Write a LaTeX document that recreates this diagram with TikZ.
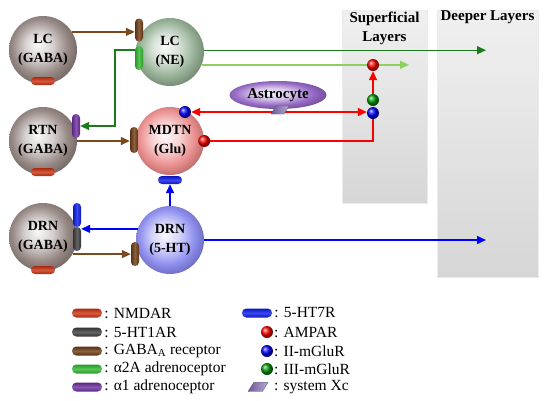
\documentclass[tikz,border=0pt]{standalone}
\usepackage{fontspec}
\setmainfont{Liberation Serif}
\usetikzlibrary{arrows.meta,shapes.geometric}
\makeatletter
\pgfdeclareradialshading[tikz@ball]{softball}{\pgfqpoint{-4bp}{4bp}}{%
 color(0bp)=(tikz@ball!5!white);
 color(10bp)=(tikz@ball!35!white);
 color(20bp)=(tikz@ball!90!white);
 color(28bp)=(tikz@ball!80!black);
 color(50bp)=(tikz@ball!80!black)}
\makeatother
\definecolor{lcgray}{HTML}{8E7F7B}
\definecolor{negreen}{HTML}{8DAA8D}
\definecolor{mdpink}{HTML}{E98585}
\definecolor{drblue}{HTML}{8585EE}
\definecolor{nmda}{HTML}{C8300E}
\definecolor{gabab}{HTML}{6B3A12}
\definecolor{a2green}{HTML}{2DB52D}
\definecolor{a1purple}{HTML}{6A2C9C}
\definecolor{ht7blue}{HTML}{0A1AE6}
\definecolor{ht1gray}{HTML}{3C3C3C}
\definecolor{brownc}{HTML}{7A4A1E}
\definecolor{dkgreen}{HTML}{1B7A1B}
\definecolor{ltgreen}{HTML}{8ED060}
\definecolor{astpurple}{HTML}{8C5CC0}
\definecolor{xcpurple}{HTML}{7E68B0}
\tikzset{
  sphere/.style={circle, minimum size=68pt, inner sep=0pt, ball color=#1, shading=softball,
    align=center, font=\bfseries\fontsize{14}{19}\selectfont},
  hbar/.style={rectangle, rounded corners=3.9pt, minimum width=24pt, minimum height=8pt, inner sep=0pt,
    top color=#1!85!black, bottom color=#1!85!black, middle color=#1!80!white},
  vbar/.style={rectangle, rounded corners=3.9pt, minimum width=8pt, minimum height=24pt, inner sep=0pt,
    left color=#1!85!black, right color=#1!85!black, middle color=#1!80!white},
  lbar/.style={rectangle, rounded corners=4.4pt, minimum width=30pt, minimum height=9pt, inner sep=0pt,
    top color=#1!85!black, bottom color=#1!85!black, middle color=#1!80!white},
  sball/.style={circle, minimum size=12pt, inner sep=0pt, ball color=#1},
  xcpic/.pic={\path[left color=xcpurple!85!black, right color=xcpurple!55!white, draw=xcpurple!70!black, line width=0.3pt]
     (-9,4) -- (4,4) -- (9,-4) -- (-4,-4) -- cycle;},
  panel/.style={rectangle, anchor=north west, inner sep=0pt, draw=black!8, top color=black!6, bottom color=black!16},
  layertext/.style={align=center, font=\bfseries\fontsize{15}{19}\selectfont},
  legtext/.style={anchor=west, inner sep=2pt, font=\fontsize{15.5}{16}\selectfont},
  arr/.style={line width=1.4pt, -{Triangle[length=9pt,width=8pt]}},
  plain/.style={line width=1.4pt},
}
\begin{document}
\begin{tikzpicture}[x=1pt,y=-1pt]
\useasboundingbox (0,0) rectangle (550,400);
% layer panels
\node[panel, minimum width=85pt, minimum height=193pt] (sup) at (342,10) {};
\node[panel, minimum width=101pt, minimum height=267pt] (deep) at (437,10) {};
\node[layertext] (suptxt) at (384.5,28) {Superficial\\Layers};
\node[layertext] (deeptxt) at (487.5,17) {Deeper Layers};
% end points
\coordinate (gcorner) at (115,50);
\coordinate (dgend) at (486,50);
\coordinate (lgend) at (409,65);
\coordinate (blend) at (486,240);
% spheres
\node[sphere=lcgray] (lcg) at (43,50) {LC\\(GABA)};
\node[sphere=negreen] (lcne) at (170,52) {LC\\(NE)};
\node[sphere=lcgray] (rtn) at (43,141) {RTN\\(GABA)};
\node[sphere=mdpink] (mdtn) at (170,141) {MDTN\\(Glu)};
\node[sphere=lcgray] (drg) at (43,237) {DRN\\(GABA)};
\node[sphere=drblue] (dr5) at (170,240) {DRN\\(5-HT)};
% receptors on neurons
\node[hbar=nmda] (lcgn) at (43,81) {};
\node[vbar=gabab, minimum height=23pt] (lcneb) at (139,30) {};
\node[vbar=a2green] (lcneg) at (139,58) {};
\node[hbar=nmda] (rtnn) at (43,172) {};
\node[vbar=a1purple] (rtnp) at (76,126) {};
\node[vbar=gabab, minimum height=26pt] (mdb) at (134,140) {};
\node[hbar=ht7blue] (md7) at (170,180) {};
\node[hbar=nmda] (drgn) at (43,270) {};
\node[vbar=ht7blue] (drgb) at (77,215) {};
\node[vbar=ht1gray] (drgk) at (77,239) {};
\node[vbar=gabab] (dr5b) at (135,254) {};
% astrocyte
\node[ellipse, minimum width=97pt, minimum height=28pt, inner sep=0pt, ball color=astpurple, shading=softball,
  font=\bfseries\fontsize{15}{16}\selectfont] (astro) at (278,95) {Astrocyte};
% connectors
\draw[arr, brownc] (lcg.32) -- (lcg.32 -| lcneb.west);
\draw[arr, dkgreen] (lcneg.west |- gcorner) -- (gcorner) |- (rtnp.east);
\draw[arr, dkgreen] (lcne.3) -- (lcne.3 -| dgend);
\draw[arr, ltgreen] (lcne.-22) -- (lcne.-22 -| lgend);
\draw[arr, brownc] (rtn.east) -- (rtn.east -| mdb.west);
\draw[arr, blue] (dr5.north) -- (md7.south);
\draw[arr, blue] (dr5.161) -- (dr5.161 -| drgb.east);
\draw[arr, brownc] (drg.-30) -- (drg.-30 -| dr5b.west);
\draw[arr, blue] (dr5.east) -- (blend);
% glutamate receptors
\node[sball=red] (mdr) at (mdtn.east) {};
\node[sball=blue] (mdg2) at (185,112) {};
\node[sball=red] (sr) at (373,65) {};
\node[sball=green!60!black] (sg) at (373,100) {};
\node[sball=blue] (sb) at (373,113) {};
\draw[plain, red] (mdr.east) -| (sb.south);
\draw[arr, red] (sg.north) -- (sr.south);
\draw[line width=1.4pt, red, {Triangle[length=9pt,width=8pt]}-{Triangle[length=9pt,width=8pt]}] (mdg2.east) -- (mdg2.east -| sb.west);
\coordinate (xc) at (280,110);
\pic at (xc) {xcpic};
% legend
\node[lbar=nmda] (l1) at (87,313) {};
\node[legtext] at (l1.east) {: NMDAR};
\node[lbar=ht1gray] (l2) at (87,332) {};
\node[legtext] at (l2.east) {: 5-HT1AR};
\node[lbar=gabab] (l3) at (87,351) {};
\node[legtext] at (l3.east) {: GABA\textsubscript{A} receptor};
\node[lbar=a2green] (l4) at (87,369) {};
\node[legtext] at (l4.east) {: α2A adrenoceptor};
\node[lbar=a1purple] (l5) at (87,387) {};
\node[legtext] at (l5.east) {: α1 adrenoceptor};
\node[lbar=ht7blue] (l6) at (257,313) {};
\node[legtext] at (l6.east) {: 5-HT7R};
\node[sball=red] (l7) at (267,332) {};
\node[legtext] at (272,332) {: AMPAR};
\node[sball=blue] (l8) at (267,351) {};
\node[legtext] at (272,351) {: II-mGluR};
\node[sball=green!60!black] (l9) at (267,369) {};
\node[legtext] at (272,369) {: III-mGluR};
\coordinate (l10) at (258,387);
\pic[scale=1.1] at (l10) {xcpic};
\node[legtext] at (272,387) {: system Xc};
\end{tikzpicture}
\end{document}
